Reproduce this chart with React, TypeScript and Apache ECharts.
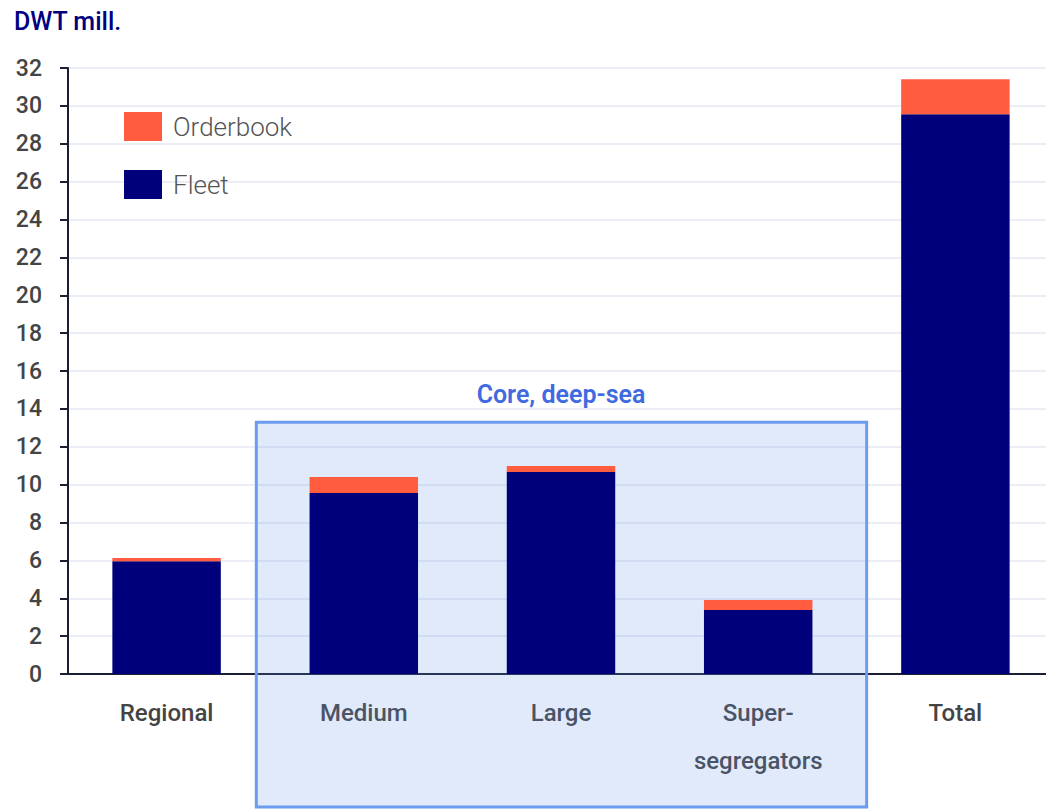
import React, { useEffect, useRef } from "react";
import * as echarts from "echarts";

const categories = ["Regional", "Medium", "Large", "Super-\nsegregators", "Total"];
const fleet = [5.95, 9.56, 10.67, 3.38, 29.56];
const orderbook = [0.17, 0.84, 0.31, 0.53, 1.85];
const yTicks = { min: 0, max: 32, interval: 2 };
const boxLabel = "Core, deep-sea";
const boxTopValue = 13.3;
const unitLabel = "DWT mill.";

const FONT = "Roboto, 'Noto Sans', sans-serif";

export default function App() {
  const ref = useRef<HTMLDivElement>(null);
  useEffect(() => {
    if (!ref.current) return;
    const chart = echarts.init(ref.current, undefined, { renderer: "svg" });
    chart.setOption({
      animation: false,
      title: {
        text: unitLabel,
        left: 9,
        top: 4,
        textStyle: { color: "#000080", fontSize: 25, fontWeight: 500, fontFamily: FONT },
      },
      legend: {
        orient: "vertical",
        left: 124,
        top: 112,
        padding: 0,
        itemWidth: 38,
        itemHeight: 29,
        itemGap: 29,
        icon: "rect",
        data: ["Orderbook", "Fleet"],
        textStyle: {
          color: "#555",
          fontSize: 26,
          fontWeight: 300,
          fontFamily: FONT,
          padding: [0, 0, 0, 6],
        },
      },
      grid: { left: 68, right: 0, top: 68, bottom: 135, containLabel: false },
      xAxis: {
        type: "category",
        data: categories,
        axisTick: { show: false },
        axisLine: { lineStyle: { color: "#1c1f33", width: 2 } },
        axisLabel: {
          color: "#444",
          fontSize: 24,
          fontWeight: 500,
          fontFamily: FONT,
          margin: 15,
          lineHeight: 48,
          interval: 0,
        },
      },
      yAxis: {
        type: "value",
        min: yTicks.min,
        max: yTicks.max,
        interval: yTicks.interval,
        axisLine: { show: true, lineStyle: { color: "#1c1f33", width: 2 } },
        axisTick: { show: true, length: 8, lineStyle: { color: "#1c1f33", width: 2 } },
        splitLine: { lineStyle: { color: "#e4e8f1", width: 1.5 } },
        axisLabel: {
          color: "#444",
          fontSize: 23,
          fontWeight: 500,
          fontFamily: FONT,
          margin: 26,
        },
      },
      series: [
        {
          name: "Fleet",
          type: "bar",
          stack: "s",
          data: fleet,
          barWidth: "55%",
          itemStyle: { color: "#00007A" },
        },
        {
          name: "Orderbook",
          type: "bar",
          stack: "s",
          data: orderbook,
          barWidth: "55%",
          itemStyle: { color: "#FF5C40" },
        },
      ],
    });

    const cMed = chart.convertToPixel({ xAxisIndex: 0 }, categories[1]) as number;
    const cLarge = chart.convertToPixel({ xAxisIndex: 0 }, categories[2]) as number;
    const cSup = chart.convertToPixel({ xAxisIndex: 0 }, categories[3]) as number;
    const band = cLarge - cMed;
    const yTop = chart.convertToPixel({ yAxisIndex: 0 }, boxTopValue) as number;
    const left = cMed - 0.545 * band;
    const right = cSup + 0.55 * band;
    const bottom = 807;
    chart.setOption({
      graphic: [
        {
          type: "rect",
          z: 1,
          shape: { x: left, y: yTop, width: right - left, height: bottom - yTop },
          style: { fill: "rgba(100,149,237,0.2)", stroke: "#6c9cf0", lineWidth: 3 },
          silent: true,
        },
        {
          type: "text",
          z: 3,
          x: cLarge,
          y: yTop - 28,
          style: {
            text: boxLabel,
            fill: "#3f6ae0",
            fontSize: 25,
            fontWeight: 600,
            fontFamily: FONT,
            textAlign: "center",
            textVerticalAlign: "middle",
          },
        },
      ],
    });
    return () => chart.dispose();
  }, []);
  return (
    <div
      ref={ref}
      style={{ position: "fixed", left: 0, top: 0, width: 1054, height: 809, background: "#fff" }}
    />
  );
}
